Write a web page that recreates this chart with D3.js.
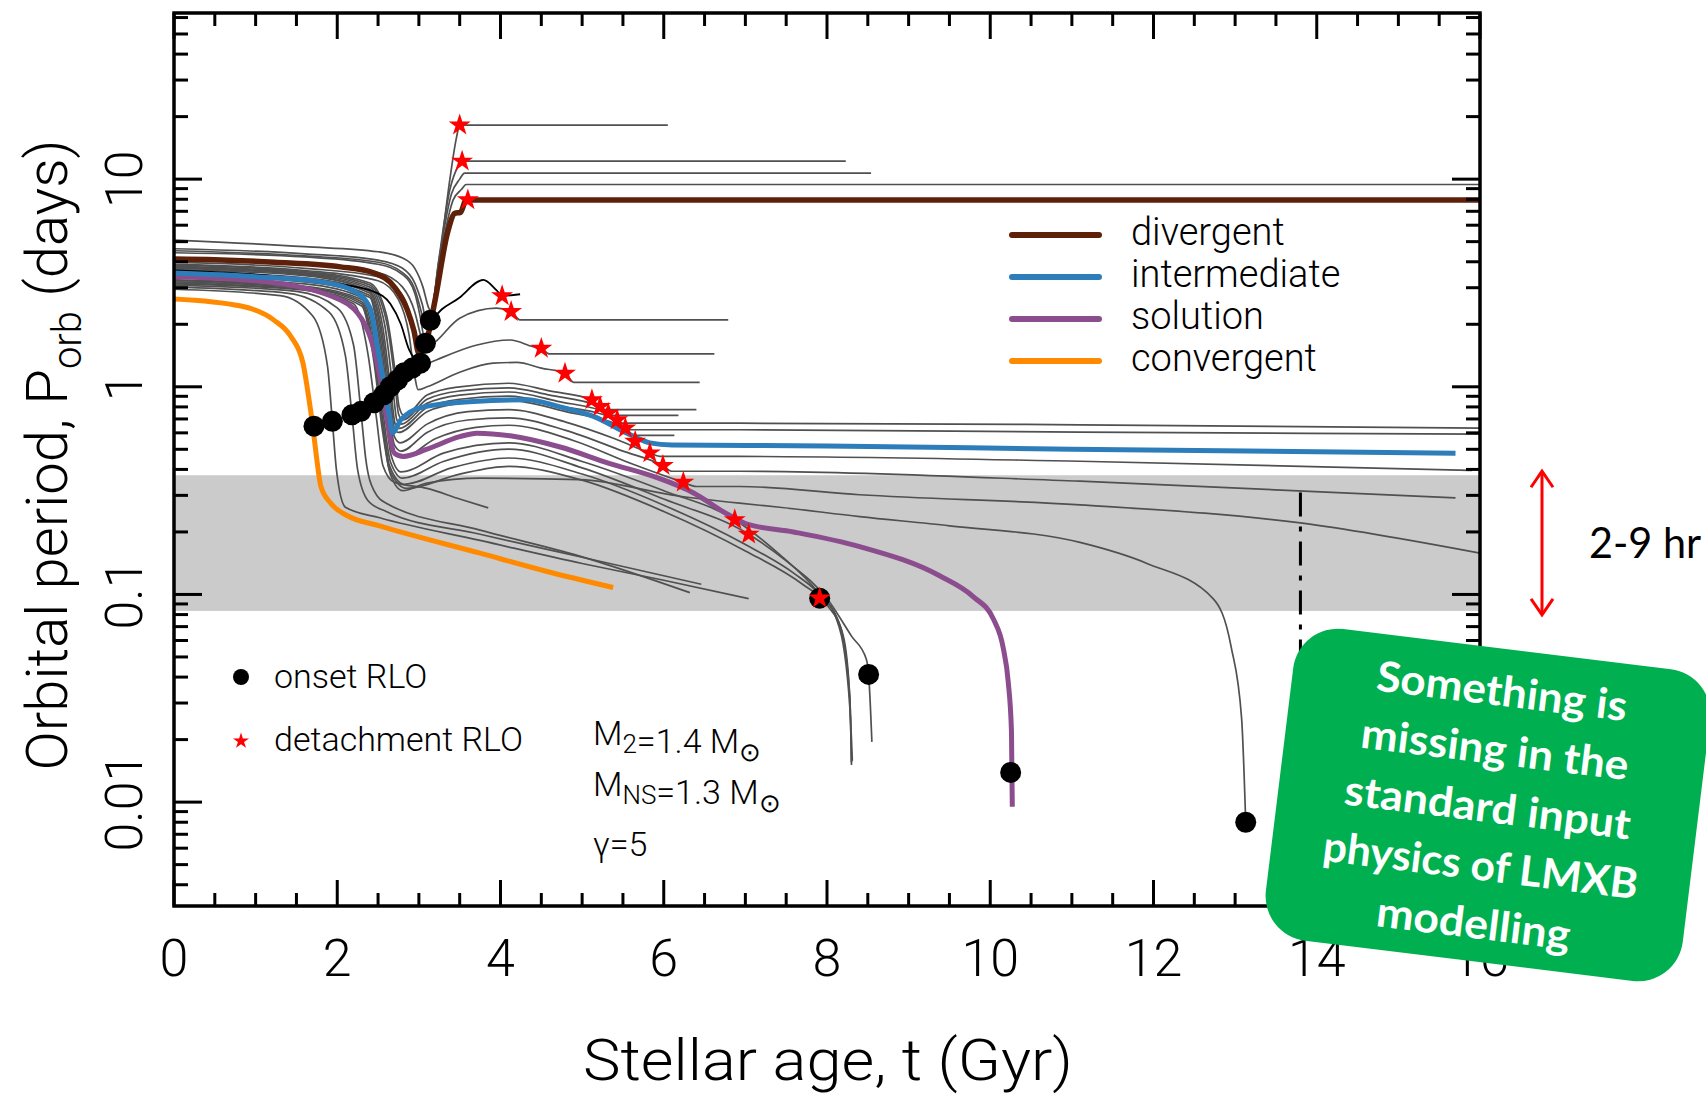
<!DOCTYPE html>
<html lang="en">
<head>
<meta charset="UTF-8">
<title>Orbital period vs stellar age</title>
<script src="https://d3js.org/d3.v7.min.js"></script>
<style>
  body { margin: 0; background: #fff; }
  svg { display: block; font-family: Roboto, "Liberation Sans", Arial, sans-serif; font-weight: 300; }
</style>
</head>
<body>
<svg width="1706" height="1095"></svg>
<script>
// every track is a list of [age t (Gyr), orbital period P (days)]
const divergent = [[0,4.12],[0.5,4.09],[1.23,3.98],[2.04,3.78],[2.45,3.53],[2.70,3.02],[2.86,2.34],[2.94,1.86],[3.0,1.45],[3.06,1.51],[3.2,2.63],[3.35,5.50],[3.44,6.84],[3.51,6.92],[3.58,7.94],[16,7.94]];
const intermediate = [[0,3.53],[1.0,3.39],[1.8,3.2],[2.2,2.9],[2.4,2.4],[2.5,1.5],[2.58,1.0],[2.64,0.72],[2.68,0.6],[2.78,0.695],[3.06,0.80],[3.67,0.85],[4.32,0.866],[4.73,0.80],[5.14,0.72],[5.55,0.598],[5.83,0.537],[6.1,0.525],[8.0,0.519],[11,0.50],[15.7,0.479]];
const solution = [[0,3.39],[1.0,3.24],[2.04,2.62],[2.37,1.88],[2.53,1.08],[2.61,0.692],[2.70,0.479],[2.81,0.462],[3.1,0.501],[3.5,0.575],[3.71,0.598],[4.12,0.581],[4.73,0.513],[5.34,0.427],[5.91,0.366],[6.36,0.309],[6.77,0.245],[7.01,0.219],[7.59,0.20],[8.4,0.17],[9.38,0.123],[9.79,0.0977],[10.04,0.0759],[10.16,0.055],[10.22,0.038],[10.26,0.0219],[10.27,0.0095]];
const convergent = [[0,2.65],[0.82,2.45],[1.22,2.1],[1.43,1.75],[1.58,1.3],[1.65,0.891],[1.70,0.646],[1.74,0.479],[1.80,0.331],[1.92,0.275],[2.12,0.24],[2.52,0.214],[3.75,0.158],[4.57,0.129],[5.38,0.108]];
const darkTrack = [[0,3.63],[1.96,3.15],[2.45,2.87],[2.65,2.51],[2.78,2.0],[2.88,1.51],[2.98,1.35],[3.08,1.585],[3.16,2.06],[3.5,2.69],[3.79,3.27],[3.95,2.92],[4.02,2.74],[4.24,2.79]];

const grayTracks = [
  // wide systems
  [[0,5.09],[1.6,4.73],[2.5,4.47],[2.8,4.17],[2.95,3.72],[3.05,3.02],[3.12,2.40],[3.16,2.29],[3.25,3.98],[3.38,10.0],[3.46,15.8],[3.5,18.2],[6.05,18.2]],
  [[0,4.62],[1.6,4.37],[2.5,4.07],[2.8,3.72],[2.95,3.16],[3.04,2.51],[3.1,2.04],[3.14,2.09],[3.24,3.98],[3.38,8.91],[3.48,11.5],[3.53,12.2],[8.23,12.2]],
  [[0,4.52],[1.6,4.27],[2.5,3.98],[2.8,3.55],[2.95,2.95],[3.03,2.29],[3.08,1.91],[3.13,2.0],[3.25,4.17],[3.4,8.51],[3.5,10.0],[3.56,10.7],[8.54,10.7]],
  [[0,4.42],[1.6,4.22],[2.5,3.89],[2.8,3.47],[2.95,2.82],[3.02,2.14],[3.06,1.78],[3.12,1.91],[3.25,3.98],[3.42,7.94],[3.52,8.91],[3.58,9.42],[16,9.42]],
  // early detachment
  [[0,4.17],[1.6,3.89],[2.5,3.55],[2.8,3.02],[2.95,2.29],[3.02,1.78],[3.06,1.585],[3.1,1.585],[3.5,2.14],[3.95,2.39],[4.13,2.30],[4.24,2.10],[6.79,2.10]],
  [[0,3.98],[1.6,3.72],[2.5,3.39],[2.8,2.75],[2.93,1.91],[3.0,1.38],[3.04,1.26],[3.1,1.29],[3.22,1.35],[3.7,1.585],[4.12,1.68],[4.4,1.56],[4.5,1.53],[4.6,1.44],[6.62,1.44]],
  [[0,3.89],[1.6,3.63],[2.5,3.24],[2.75,2.63],[2.88,1.78],[2.95,1.12],[2.99,0.968],[3.1,1.0],[3.5,1.175],[3.91,1.30],[4.2,1.31],[4.5,1.23],[4.79,1.16],[4.9,1.05],[6.44,1.05]],
  // bundle around the intermediate track
  [[0,3.85],[1.6,3.59],[2.4,3.16],[2.6,2.24],[2.7,1.26],[2.76,0.794],[2.82,0.724],[3.1,0.912],[3.5,1.0],[4.1,1.04],[4.6,0.955],[5.12,0.866],[5.2,0.776],[6.4,0.776]],
  [[0,3.80],[1.6,3.55],[2.4,3.09],[2.6,2.09],[2.7,1.12],[2.75,0.741],[2.8,0.692],[3.1,0.871],[3.5,0.955],[4.1,0.989],[4.6,0.912],[5.22,0.804],[5.3,0.728],[6.18,0.728]],
  [[0,3.76],[1.6,3.51],[2.4,3.02],[2.58,2.0],[2.68,1.0],[2.73,0.692],[2.78,0.661],[3.1,0.832],[3.5,0.912],[4.1,0.944],[4.7,0.851],[5.32,0.746],[5.42,0.668],[6.93,0.668],[11.1,0.656],[16,0.632]],
  [[0,3.72],[1.6,3.47],[2.4,2.95],[2.56,1.91],[2.66,0.933],[2.71,0.661],[2.76,0.631],[3.1,0.794],[3.5,0.871],[4.1,0.902],[4.7,0.813],[5.43,0.693],[5.53,0.621],[6.93,0.621],[11.1,0.605],[16,0.592]],
  [[0,3.67],[1.6,3.43],[2.4,2.88],[2.55,1.82],[2.65,0.891],[2.7,0.631],[2.75,0.603],[3.1,0.759],[3.5,0.832],[4.1,0.861],[4.8,0.759],[5.53,0.632],[5.63,0.583],[6.13,0.583]],
  [[0,3.59],[1.6,3.35],[2.4,2.82],[2.55,1.66],[2.64,0.832],[2.7,0.575],[2.77,0.537],[3.1,0.661],[3.6,0.759],[4.1,0.776],[4.8,0.676],[5.4,0.562],[5.83,0.480],[5.95,0.462],[6.93,0.462],[11.1,0.438],[15.9,0.396]],
  [[0,3.51],[1.6,3.27],[2.4,2.75],[2.54,1.585],[2.63,0.794],[2.7,0.525],[2.78,0.490],[3.1,0.603],[3.6,0.692],[4.1,0.708],[4.8,0.617],[5.5,0.490],[5.99,0.417],[6.1,0.392],[6.93,0.392],[11.1,0.351],[15.7,0.292]],
  [[0,3.43],[1.6,3.20],[2.4,2.69],[2.53,1.51],[2.62,0.759],[2.7,0.490],[2.8,0.457],[3.2,0.562],[3.7,0.638],[4.1,0.653],[4.9,0.550],[5.6,0.427],[6.24,0.347],[6.4,0.331],[6.93,0.331],[8.4,0.302],[11.1,0.270],[13.8,0.221],[16,0.158]],
  // tracks converging near 8 Gyr
  [[0,3.35],[1.6,3.13],[2.3,2.69],[2.48,1.66],[2.58,0.794],[2.66,0.468],[2.78,0.389],[3.3,0.479],[4.1,0.537],[5.0,0.437],[6.0,0.316],[6.87,0.229],[7.4,0.158],[7.91,0.1],[8.16,0.0708],[8.28,0.0316],[8.3,0.0155]],
  [[0,3.27],[1.6,3.05],[2.3,2.63],[2.46,1.585],[2.56,0.759],[2.65,0.437],[2.8,0.363],[3.3,0.437],[4.1,0.501],[5.0,0.407],[6.0,0.288],[7.04,0.195],[7.5,0.145],[8.0,0.0955],[8.3,0.063],[8.48,0.049],[8.51,0.0412],[8.55,0.0195]],
  [[0,3.24],[1.6,3.02],[2.3,2.57],[2.45,1.51],[2.55,0.724],[2.64,0.417],[2.82,0.339],[3.4,0.407],[4.1,0.454],[5.0,0.380],[6.0,0.269],[7.0,0.174],[7.6,0.126],[7.91,0.1],[8.1,0.0794],[8.25,0.0398],[8.3,0.02],[8.31,0.0158]],
  [[0,3.20],[1.6,2.99],[2.3,2.51],[2.45,1.445],[2.55,0.692],[2.64,0.398],[2.85,0.324],[3.5,0.380],[4.1,0.414],[5.0,0.355],[6.0,0.251],[7.0,0.162],[7.7,0.112],[8.0,0.0891],[8.2,0.063],[8.28,0.0316],[8.3,0.0151]],
  // long track reaching 13 Gyr
  [[0,3.16],[1.6,2.95],[2.3,2.45],[2.45,1.32],[2.55,0.631],[2.65,0.380],[2.8,0.316],[3.1,0.344],[3.75,0.363],[4.97,0.357],[6.2,0.297],[6.93,0.275],[7.42,0.263],[8.4,0.237],[9.5,0.214],[11.1,0.178],[11.92,0.141],[12.73,0.0955],[12.95,0.0562],[13.08,0.0251],[13.13,0.00794]],
  // short tracks inside the grey band
  [[0,3.13],[1.6,2.92],[2.2,2.51],[2.38,1.41],[2.48,0.708],[2.56,0.417],[2.7,0.347],[3.1,0.324],[3.5,0.288],[3.85,0.261]],
  [[0,3.09],[1.5,2.88],[2.0,2.40],[2.2,1.585],[2.29,0.762],[2.35,0.447],[2.45,0.316],[2.6,0.275],[3.75,0.204],[4.97,0.153],[6.32,0.102]],
  [[0,3.02],[1.4,2.82],[1.9,2.29],[2.1,1.41],[2.18,0.733],[2.25,0.398],[2.38,0.282],[2.6,0.251],[3.75,0.195],[5.0,0.151],[6.46,0.112]],
  [[0,2.95],[1.3,2.75],[1.7,2.19],[1.88,1.26],[1.94,0.682],[1.99,0.398],[2.1,0.263],[2.52,0.234],[3.75,0.182],[5.0,0.141],[6.0,0.117],[7.04,0.0955]]
];

const onsetRLO = [[1.715,0.646],[1.94,0.682],[2.18,0.733],[2.29,0.762],[2.45,0.838],[2.57,0.916],[2.65,1.0],[2.74,1.08],[2.82,1.17],[2.92,1.23],[3.02,1.30],[3.08,1.62],[3.14,2.09],[7.91,0.096],[8.51,0.0412],[10.25,0.0139],[13.13,0.0080]];
const detachmentRLO = [[3.50,18.2],[3.53,12.2],[3.60,7.94],[4.02,2.74],[4.13,2.30],[4.50,1.53],[4.79,1.16],[5.12,0.866],[5.22,0.804],[5.32,0.746],[5.43,0.693],[5.53,0.632],[5.65,0.546],[5.83,0.480],[5.99,0.417],[6.24,0.347],[6.87,0.229],[7.04,0.195],[7.91,0.096]];

const band = [2 / 24, 9 / 24];      // 2-9 hr in days
const universeAge = 13.8;
const xTickLabels = [0, 2, 4, 6, 8, 10, 12, 14, 16];
const yTickLabels = [[0.01, "0.01"], [0.1, "0.1"], [1, "1"], [10, "10"]];
const legendNames = ["divergent", "intermediate", "solution", "convergent"];
const legendColors = ["#5e2008", "#2d7dbb", "#8b4d8d", "#ff8a00"];
const boxLines = ["Something is", "missing in the", "standard input", "physics of LMXB", "modelling"];

const svg = d3.select("svg");
const L = 174, R = 1480, T = 13, B = 906;
const x = d3.scaleLinear().domain([0, 16]).range([L, R]);
const y = d3.scaleLog().domain([0.00316, 63.1]).range([B, T]);

svg.append("clipPath").attr("id", "plotclip")
  .append("rect").attr("x", L).attr("y", T).attr("width", R - L).attr("height", B - T);
const plot = svg.append("g").attr("clip-path", "url(#plotclip)");

plot.append("rect")
  .attr("x", L).attr("width", R - L)
  .attr("y", y(band[1])).attr("height", y(band[0]) - y(band[1]))
  .attr("fill", "#cbcbcb");

plot.append("line")
  .attr("x1", x(universeAge)).attr("x2", x(universeAge))
  .attr("y1", y(0.31)).attr("y2", B)
  .attr("stroke", "#000").attr("stroke-width", 3)
  .attr("stroke-dasharray", "24,10,5,10");

const line = d3.line().x(d => x(d[0])).y(d => y(d[1])).curve(d3.curveMonotoneX);

plot.selectAll(".gray").data(grayTracks).join("path")
  .attr("d", line).attr("fill", "none")
  .attr("stroke", "#505050").attr("stroke-width", 1.7);

plot.append("path").datum(darkTrack).attr("d", line)
  .attr("fill", "none").attr("stroke", "#000").attr("stroke-width", 1.8);

[[convergent, 3], [solution, 2], [intermediate, 1], [divergent, 0]].forEach(([data, i]) => {
  plot.append("path").datum(data).attr("d", line)
    .attr("fill", "none").attr("stroke", legendColors[i])
    .attr("stroke-width", i === 0 ? 5.5 : 5);
});

plot.selectAll(".onset").data(onsetRLO).join("circle")
  .attr("cx", d => x(d[0])).attr("cy", d => y(d[1])).attr("r", 10.5).attr("fill", "#000");

const star = d3.symbol(d3.symbolStar);
plot.selectAll(".detach").data(detachmentRLO).join("path")
  .attr("transform", d => `translate(${x(d[0])},${y(d[1])})`)
  .attr("d", star.size(150)).attr("fill", "#ff0000");

// frame and ticks
svg.append("rect").attr("x", L).attr("y", T).attr("width", R - L).attr("height", B - T)
  .attr("fill", "none").attr("stroke", "#000").attr("stroke-width", 3.5);

const ticks = svg.append("g").attr("stroke", "#000").attr("stroke-width", 3);
d3.range(0, 16.01, 0.5).forEach(t => {
  const len = t % 2 === 0 ? 26 : 13;
  ticks.append("line").attr("x1", x(t)).attr("x2", x(t)).attr("y1", B).attr("y2", B - len);
  ticks.append("line").attr("x1", x(t)).attr("x2", x(t)).attr("y1", T).attr("y2", T + len);
});
const [ylo, yhi] = y.domain();
for (let k = -3; k <= 1; k++) {
  for (let m = 1; m <= 9; m++) {
    const v = m * Math.pow(10, k);
    if (v < ylo || v > yhi) continue;
    const len = m === 1 ? 28 : 14;
    ticks.append("line").attr("x1", L).attr("x2", L + len).attr("y1", y(v)).attr("y2", y(v));
    ticks.append("line").attr("x1", R).attr("x2", R - len).attr("y1", y(v)).attr("y2", y(v));
  }
}

svg.selectAll(".xlab").data(xTickLabels).join("text")
  .attr("x", d => x(d)).attr("y", 976).attr("text-anchor", "middle")
  .attr("font-size", 52).text(d => d);

svg.selectAll(".ylab").data(yTickLabels).join("text")
  .attr("transform", d => `translate(142,${y(d[0])}) rotate(-90)`)
  .attr("text-anchor", "middle").attr("font-size", 52).text(d => d[1]);

svg.append("text").attr("x", 828).attr("y", 1080).attr("text-anchor", "middle")
  .attr("font-size", 58).attr("textLength", 490).attr("lengthAdjust", "spacingAndGlyphs")
  .text("Stellar age, t (Gyr)");

const yt = svg.append("text").attr("transform", "translate(67,455) rotate(-90)")
  .attr("text-anchor", "middle").attr("font-size", 58);
yt.append("tspan").text("Orbital period, P");
yt.append("tspan").attr("font-size", 40).attr("dy", 14).text("orb");
yt.append("tspan").attr("dy", -14).text(" (days)");

// legend, top right
legendNames.forEach((name, i) => {
  const ly = 235 + i * 42;
  svg.append("line").attr("x1", 1012).attr("x2", 1099).attr("y1", ly).attr("y2", ly)
    .attr("stroke", legendColors[i]).attr("stroke-width", 6).attr("stroke-linecap", "round");
  svg.append("text").attr("x", 1131).attr("y", ly + 10).attr("font-size", 38).text(name);
});

// marker legend, bottom left
svg.append("circle").attr("cx", 241).attr("cy", 677).attr("r", 8).attr("fill", "#000");
svg.append("path").attr("transform", "translate(241,741)").attr("d", star.size(80)).attr("fill", "#ff0000");
svg.append("text").attr("x", 274).attr("y", 688).attr("font-size", 34).text("onset RLO");
svg.append("text").attr("x", 274).attr("y", 751).attr("font-size", 34).text("detachment RLO");

function param(yb, parts) {
  const t = svg.append("text").attr("x", 593).attr("y", yb).attr("font-size", 34);
  parts.forEach(([s, sub]) => {
    t.append("tspan").attr("font-size", sub ? 26 : 34).attr("dy", sub ? 8 : 0).text(s);
    if (sub) t.append("tspan").attr("dy", -8).text("");
  });
}
param(745, [["M", 0], ["2", 1], ["=1.4 M", 0], ["\u2299", 1]]);
param(796, [["M", 0], ["NS", 1], ["=1.3 M", 0], ["\u2299", 1]]);
param(856, [["\u03b3=5", 0]]);

// 2-9 hr annotation
const ann = svg.append("g").attr("stroke", "#ff0000").attr("stroke-width", 3).attr("fill", "none");
ann.append("line").attr("x1", 1542).attr("x2", 1542).attr("y1", y(band[1]) - 3).attr("y2", y(band[0]) + 3);
ann.append("polyline").attr("points", `1531,${y(band[1]) + 12} 1542,${y(band[1]) - 4} 1553,${y(band[1]) + 12}`);
ann.append("polyline").attr("points", `1531,${y(band[0]) - 12} 1542,${y(band[0]) + 4} 1553,${y(band[0]) - 12}`);
svg.append("text").attr("x", 1589).attr("y", 558).attr("font-family", "Lato, 'Open Sans', sans-serif")
  .attr("font-weight", 400).attr("font-size", 42).attr("textLength", 112).attr("lengthAdjust", "spacingAndGlyphs")
  .text("2-9 hr");

// green call-out box
const box = svg.append("g").attr("transform", "translate(1488,805) rotate(7)");
box.append("rect").attr("x", -210).attr("y", -157).attr("width", 420).attr("height", 314)
  .attr("rx", 45).attr("fill", "#00b050");
const boxWidths = [252, 269, 288, 317, 195];
boxLines.forEach((s, i) => {
  box.append("text").attr("x", 0).attr("y", -114 + i * 58.5 + 14)
    .attr("text-anchor", "middle").attr("fill", "#fff")
    .attr("font-family", "Lato, 'Open Sans', sans-serif").attr("font-weight", "bold")
    .attr("font-size", 42).attr("textLength", boxWidths[i]).attr("lengthAdjust", "spacingAndGlyphs")
    .text(s);
});
</script>
</body>
</html>
